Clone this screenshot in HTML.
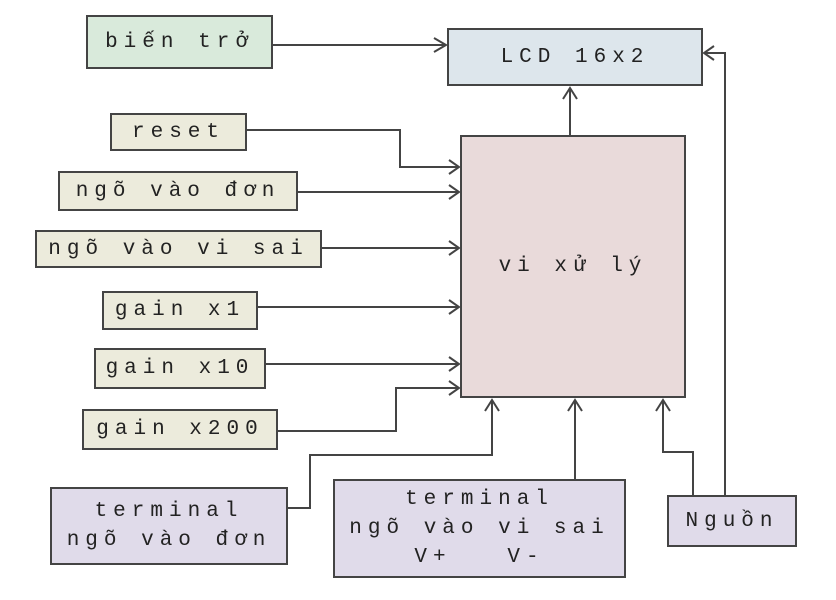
<!DOCTYPE html>
<html><head><meta charset="utf-8"><style>
body{margin:0;width:836px;height:600px;background:#fff;overflow:hidden;position:relative;}
.b{position:absolute;box-sizing:border-box;border:2.5px solid #444;display:flex;align-items:center;justify-content:center;text-align:center;font-family:"Liberation Mono","DejaVu Sans Mono","Courier New",Courier,monospace;font-size:21px;letter-spacing:6px;color:#222;line-height:29px;white-space:pre;}
.g{background:#d9eadb}.y{background:#ecebdc}.p{background:#e0dbea}
svg{position:absolute;left:0;top:0}
</style></head><body>
<svg width="836" height="600" fill="none" stroke="#444" stroke-width="2">
<path d="M273 45H446M434 38l12 7-12 7"/>
<path d="M247 130H400V167H459M449 160l10 7-10 7"/>
<path d="M298 192H459M449 185l10 7-10 7"/>
<path d="M322 248H459M449 241l10 7-10 7"/>
<path d="M258 307H459M449 300l10 7-10 7"/>
<path d="M266 364H459M449 357l10 7-10 7"/>
<path d="M278 431H396V388H459M449 381l10 7-10 7"/>
<path d="M288 508H310V455H492V400M485 411l7-11 7 11"/>
<path d="M575 479V400M568 411l7-11 7 11"/>
<path d="M693 495V452H663V400M656 411l7-11 7 11"/>
<path d="M725 495V53H704M714 46l-10 7 10 7"/>
<path d="M570 135V88M563 99l7-11 7 11"/>
</svg>
<div class="b g" style="left:86px;top:15px;width:187px;height:54px">biến trở</div>
<div class="b" style="left:447px;top:28px;width:256px;height:58px;background:#dde6ec">LCD 16x2</div>
<div class="b y" style="left:110px;top:113px;width:137px;height:38px">reset</div>
<div class="b y" style="left:58px;top:171px;width:240px;height:40px">ngõ vào đơn</div>
<div class="b y" style="left:35px;top:230px;width:287px;height:38px">ngõ vào vi sai</div>
<div class="b y" style="left:102px;top:291px;width:156px;height:39px">gain x1</div>
<div class="b y" style="left:94px;top:348px;width:172px;height:41px">gain x10</div>
<div class="b y" style="left:82px;top:409px;width:196px;height:41px">gain x200</div>
<div class="b" style="left:460px;top:135px;width:226px;height:263px;background:#e9dada">vi xử lý</div>
<div class="b p" style="left:50px;top:487px;width:238px;height:78px">terminal
ngõ vào đơn</div>
<div class="b p" style="left:333px;top:479px;width:293px;height:99px">terminal
ngõ vào vi sai
V+   V-</div>
<div class="b p" style="left:667px;top:495px;width:130px;height:52px">Nguồn</div>
</body></html>
